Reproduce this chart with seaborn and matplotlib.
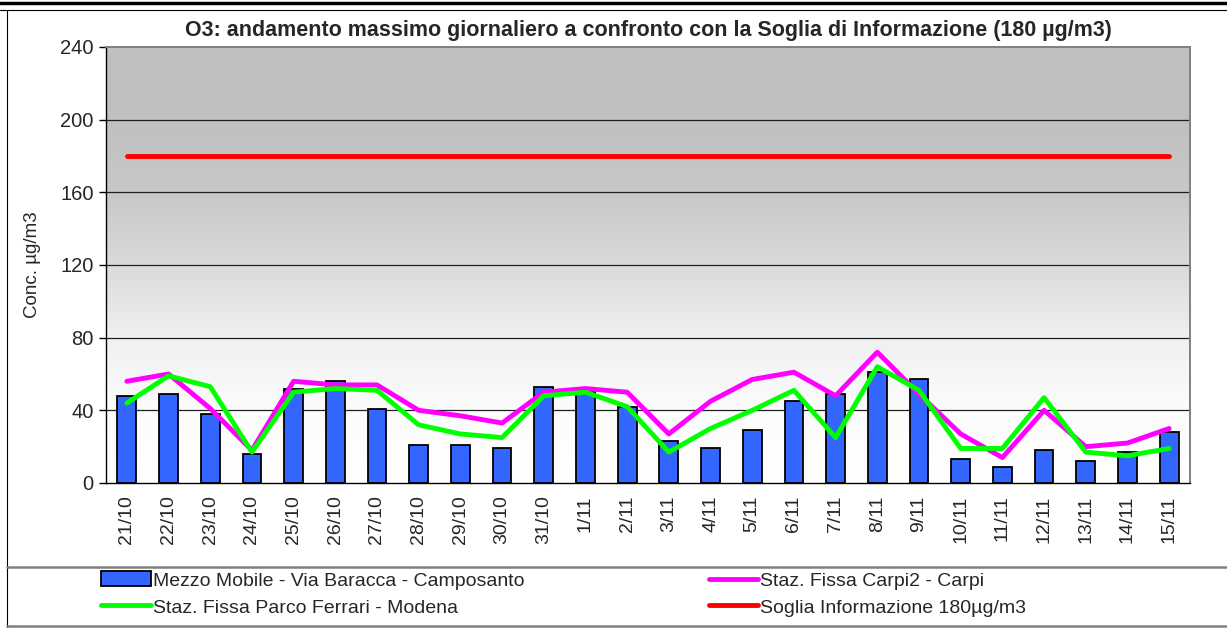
import numpy as np
import pandas as pd
import matplotlib
matplotlib.use('Agg')
import matplotlib.pyplot as plt
import seaborn as sns
from matplotlib.lines import Line2D
from matplotlib.patches import Patch

dates = ['21/10', '22/10', '23/10', '24/10', '25/10', '26/10', '27/10', '28/10',
         '29/10', '30/10', '31/10', '1/11', '2/11', '3/11', '4/11', '5/11',
         '6/11', '7/11', '8/11', '9/11', '10/11', '11/11', '12/11', '13/11',
         '14/11', '15/11']
mezzo_mobile = [48, 49, 38, 16, 52, 56, 41, 21, 21, 19, 53, 50, 42, 23, 19, 29,
                45, 49, 61, 57, 13, 9, 18, 12, 17, 28]
carpi = [56, 60, 41, 18, 56, 54, 54, 40, 37, 33, 50, 52, 50, 27, 45, 57,
         61, 48, 72, 49, 27, 14, 40, 20, 22, 30]
modena = [44, 59, 53, 17, 50, 52, 51, 32, 27, 25, 48, 50, 42, 17, 30, 40,
          51, 25, 64, 51, 19, 19, 47, 17, 15, 19]
soglia = [180] * len(dates)

df = pd.DataFrame({'data': dates, 'mezzo': mezzo_mobile, 'carpi': carpi,
                   'modena': modena, 'soglia': soglia})

sns.set_style('white')
plt.rcParams['font.family'] = ['Liberation Sans', 'DejaVu Sans']

fig = plt.figure(figsize=(12.27, 6.28), dpi=100)
ax = fig.add_axes([106 / 1227, 145 / 628, 1084 / 1227, 436 / 628])

# gradient background (grey on top, white at bottom)
grad = np.linspace(0, 1, 256).reshape(-1, 1)
cmap = matplotlib.colors.LinearSegmentedColormap.from_list(
    'bg', [(0, '#ffffff'), (1 / 6, '#fcfcfc'), (1 / 3, '#f0f0f0'),
           (0.5, '#dadada'), (2 / 3, '#c8c8c8'), (5 / 6, '#c0c0c0'), (1, '#c0c0c0')])
ax.imshow(grad, aspect='auto', cmap=cmap, origin='lower',
          extent=[-0.5, len(dates) - 0.5, 0, 240], zorder=0)

for y in range(40, 240, 40):
    ax.axhline(y, color='#202020', lw=0.9, zorder=1)

sns.barplot(data=df, x='data', y='mezzo', color='#3366ff', edgecolor='black',
            linewidth=1.3, width=0.45, saturation=1, ax=ax, zorder=2)
sns.lineplot(data=df, x='data', y='carpi', color='#ff00ff', lw=3.5, ax=ax, zorder=3)
sns.lineplot(data=df, x='data', y='modena', color='#00ff00', lw=3.5, ax=ax, zorder=4)
sns.lineplot(data=df, x='data', y='soglia', color='#ff0000', lw=3.5, ax=ax, zorder=4)

ax.set_xlim(-0.5, len(dates) - 0.5)
ax.set_ylim(0, 240)
ax.set_yticks(range(0, 241, 40))
ax.set_xticks(range(len(dates)))
ax.set_xticklabels(dates, rotation=90, fontsize=14)
ax.set_xticks(np.arange(-0.5, len(dates)), minor=True)
ax.tick_params(axis='x', which='major', length=0, pad=9)
ax.tick_params(axis='x', which='minor', length=5, width=1, color='black', direction='out')
ax.tick_params(axis='y', length=5, width=1, color='black', direction='out', labelsize=14.5, left=True, pad=4)
ax.set_xlabel('')
ax.set_ylabel('Conc. µg/m3', fontsize=13.5, labelpad=14)
ax.set_title('O3: andamento massimo giornaliero a confronto con la Soglia di Informazione (180 µg/m3)',
             fontsize=15.5, fontweight='bold', pad=8)

for side in ['top', 'right']:
    ax.spines[side].set_color('#808080')
    ax.spines[side].set_linewidth(1.4)
for side in ['left', 'bottom']:
    ax.spines[side].set_color('black')
    ax.spines[side].set_linewidth(1)

# outer frame lines
fig.add_artist(Line2D([0, 1], [1 - 3 / 628, 1 - 3 / 628], color='black', lw=2.5))
fig.add_artist(Line2D([0, 1], [1 - 10 / 628, 1 - 10 / 628], color='black', lw=0.8))
fig.add_artist(Line2D([7 / 1227, 7 / 1227], [0, 1 - 10 / 628], color='black', lw=0.8))
fig.add_artist(Line2D([7 / 1227, 1], [1 - 567 / 628, 1 - 567 / 628], color='#808080', lw=1.8))
fig.add_artist(Line2D([7 / 1227, 1], [1 - 626 / 628, 1 - 626 / 628], color='#808080', lw=1.8))

handles = [Patch(facecolor='#3366ff', edgecolor='black', lw=1.3),
           Line2D([], [], color='#00ff00', lw=3.5),
           Line2D([], [], color='#ff00ff', lw=3.5),
           Line2D([], [], color='#ff0000', lw=3.5)]
labels = ['Mezzo Mobile - Via Baracca - Camposanto',
          'Staz. Fissa Parco Ferrari - Modena',
          'Staz. Fissa Carpi2 - Carpi',
          'Soglia Informazione 180µg/m3']
fig.legend(handles, labels, ncol=2, loc='center left', bbox_to_anchor=(101 / 1227, 34 / 628),
           frameon=False, fontsize=14, handlelength=2.55, handleheight=0.8, handletextpad=0.1,
           columnspacing=9.5, labelspacing=0.45, borderaxespad=0, borderpad=0)

fig.savefig('out.png', dpi=100)
